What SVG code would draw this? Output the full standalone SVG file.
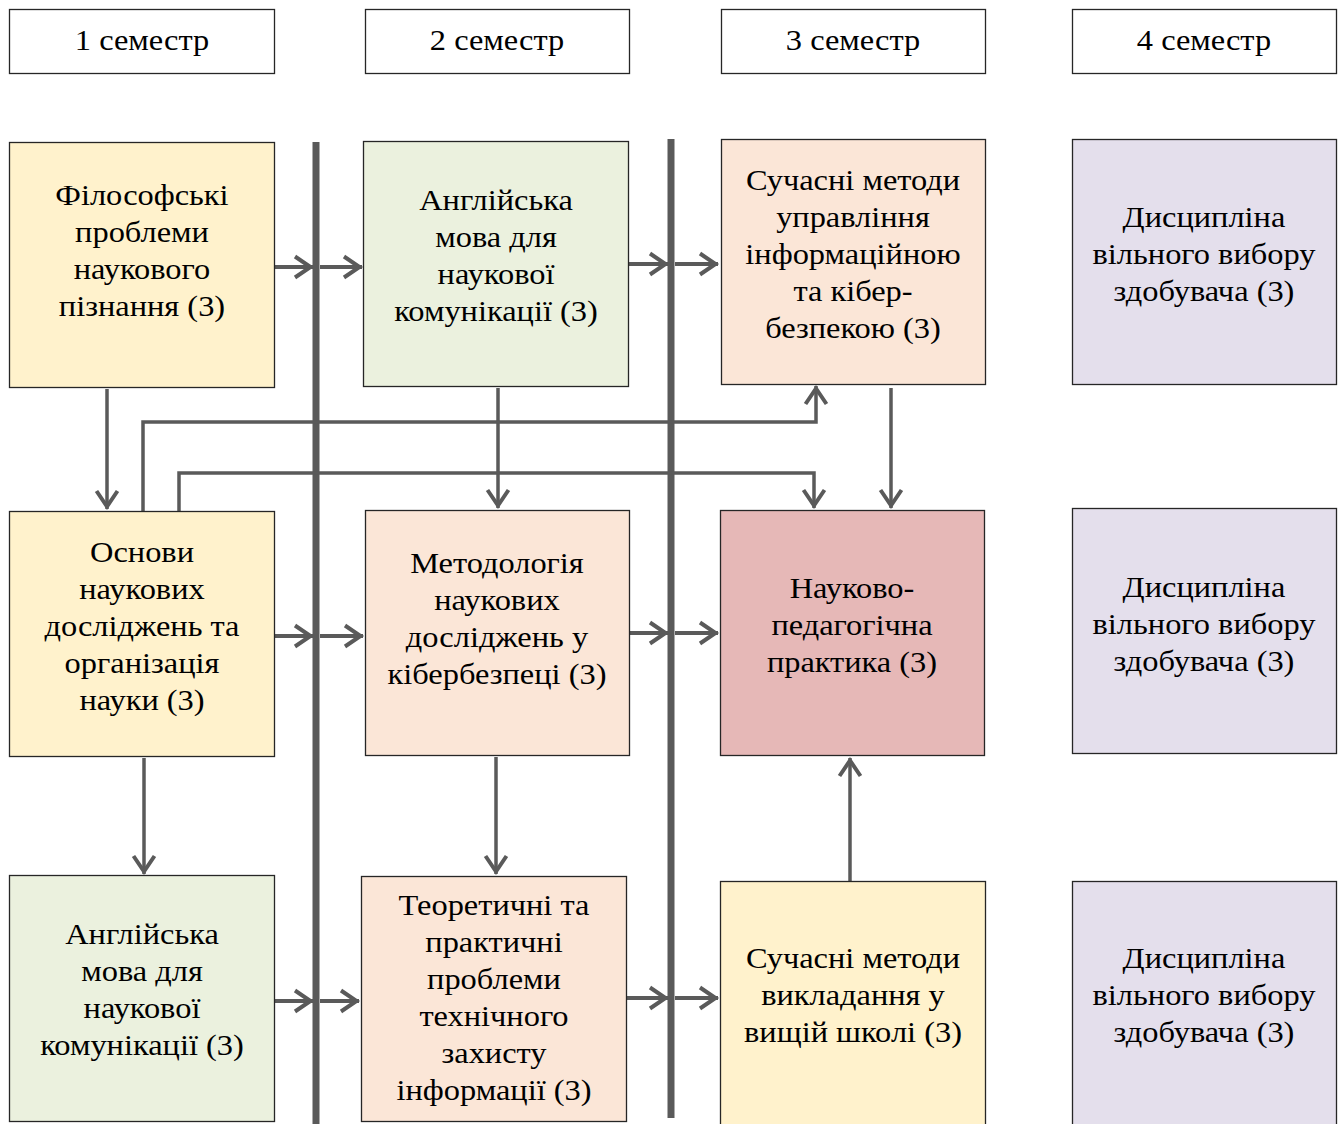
<svg xmlns="http://www.w3.org/2000/svg" width="1344" height="1124" viewBox="0 0 1344 1124">
<style>
.hd{fill:#ffffff;stroke:#262626;stroke-width:1.3}
.bx{stroke:#262626;stroke-width:1.3}
.y{fill:#FFF2CC}.g{fill:#EBF1DE}.p{fill:#FBE6D7}.r{fill:#E6B8B7}.v{fill:#E4DFEC}
text{font-size:30px;fill:#000;text-anchor:middle;transform-box:fill-box;transform-origin:center;transform:scaleX(1.08)}
.bar{stroke:#5a5a5a;stroke-width:7;fill:none}
.ah{stroke:#5a5a5a;stroke-width:4;fill:none;marker-end:url(#m)}
.av{stroke:#5a5a5a;stroke-width:3.5;fill:none;marker-end:url(#m)}
</style>
<defs>
<marker id="m" markerUnits="userSpaceOnUse" viewBox="-22 -14 24 28" markerWidth="24" markerHeight="28" refX="0" refY="0" orient="auto" overflow="visible">
<path d="M-18,-10.5 L-2.5,0 L-18,10.5" fill="none" stroke="#5a5a5a" stroke-width="4"/>
</marker>
</defs>
<rect width="1344" height="1124" fill="#ffffff"/>
<g font-family="'Liberation Serif', 'Times New Roman', 'DejaVu Serif', serif">
<g id="headers">
<g id="h1"><rect class="hd" x="9.5" y="9.5" width="265" height="64"/><text x="142" y="50">1 семестр</text></g>
<g id="h2"><rect class="hd" x="365.5" y="9.5" width="264" height="64"/><text x="497" y="50">2 семестр</text></g>
<g id="h3"><rect class="hd" x="721.5" y="9.5" width="264" height="64"/><text x="853" y="50">3 семестр</text></g>
<g id="h4"><rect class="hd" x="1072.5" y="9.5" width="264" height="64"/><text x="1204" y="50">4 семестр</text></g>
</g>
<g id="connectors">
<line class="bar" x1="316" y1="142" x2="316" y2="1124"/>
<line class="bar" x1="671" y1="139" x2="671" y2="1118"/>
<path class="ah" d="M275,267 H313"/>
<path class="ah" d="M320,267 H362"/>
<path class="ah" d="M629,264 H668"/>
<path class="ah" d="M675,264 H718"/>
<path class="ah" d="M275,636 H313"/>
<path class="ah" d="M320,636 H363"/>
<path class="ah" d="M630,633 H668"/>
<path class="ah" d="M675,633 H718"/>
<path class="ah" d="M275,1001 H313"/>
<path class="ah" d="M320,1001 H359"/>
<path class="ah" d="M627,998 H668"/>
<path class="ah" d="M675,998 H718"/>
<path class="av" d="M107,389 V509"/>
<path class="av" d="M498,388 V508"/>
<path class="av" d="M144,758 V874"/>
<path class="av" d="M496,757 V874"/>
<path class="av" d="M891,388 V508"/>
<path class="av" d="M850,881 V758"/>
<path class="av" d="M143,511 V422 H816 V386"/>
<path class="av" d="M179,511 V473 H814 V508"/>
</g>
<g id="n1"><rect class="bx y" x="9.5" y="142.5" width="265" height="245"/>
<text x="142" y="205">Філософські</text><text x="142" y="242">проблеми</text><text x="142" y="279">наукового</text><text x="142" y="316">пізнання (3)</text></g>
<g id="n2"><rect class="bx g" x="363.5" y="141.5" width="265" height="245"/>
<text x="496" y="210">Англійська</text><text x="496" y="247">мова для</text><text x="496" y="284">наукової</text><text x="496" y="321">комунікації (3)</text></g>
<g id="n3"><rect class="bx p" x="721.5" y="139.5" width="264" height="245"/>
<text x="853" y="190">Сучасні методи</text><text x="853" y="227">управління</text><text x="853" y="264">інформаційною</text><text x="853" y="301">та кібер-</text><text x="853" y="338">безпекою (3)</text></g>
<g id="n4"><rect class="bx v" x="1072.5" y="139.5" width="264" height="245"/>
<text x="1204" y="227">Дисципліна</text><text x="1204" y="264">вільного вибору</text><text x="1204" y="301">здобувача (3)</text></g>
<g id="n5"><rect class="bx y" x="9.5" y="511.5" width="265" height="245"/>
<text x="142" y="562">Основи</text><text x="142" y="599">наукових</text><text x="142" y="636">досліджень та</text><text x="142" y="673">організація</text><text x="142" y="710">науки (3)</text></g>
<g id="n6"><rect class="bx p" x="365.5" y="510.5" width="264" height="245"/>
<text x="497" y="573">Методологія</text><text x="497" y="610">наукових</text><text x="497" y="647">досліджень у</text><text x="497" y="684">кібербезпеці (3)</text></g>
<g id="n7"><rect class="bx r" x="720.5" y="510.5" width="264" height="245"/>
<text x="852" y="598">Науково-</text><text x="852" y="635">педагогічна</text><text x="852" y="672">практика (3)</text></g>
<g id="n8"><rect class="bx v" x="1072.5" y="508.5" width="264" height="245"/>
<text x="1204" y="597">Дисципліна</text><text x="1204" y="634">вільного вибору</text><text x="1204" y="671">здобувача (3)</text></g>
<g id="n9"><rect class="bx g" x="9.5" y="875.5" width="265" height="246"/>
<text x="142" y="944">Англійська</text><text x="142" y="981">мова для</text><text x="142" y="1018">наукової</text><text x="142" y="1055">комунікації (3)</text></g>
<g id="n10"><rect class="bx p" x="361.5" y="876.5" width="265" height="245"/>
<text x="494" y="915">Теоретичні та</text><text x="494" y="952">практичні</text><text x="494" y="989">проблеми</text><text x="494" y="1026">технічного</text><text x="494" y="1063">захисту</text><text x="494" y="1100">інформації (3)</text></g>
<g id="n11"><rect class="bx y" x="720.5" y="881.5" width="265" height="260"/>
<text x="853" y="968">Сучасні методи</text><text x="853" y="1005">викладання у</text><text x="853" y="1042">вищій школі (3)</text></g>
<g id="n12"><rect class="bx v" x="1072.5" y="881.5" width="264" height="260"/>
<text x="1204" y="968">Дисципліна</text><text x="1204" y="1005">вільного вибору</text><text x="1204" y="1042">здобувача (3)</text></g>
</g>
</svg>
